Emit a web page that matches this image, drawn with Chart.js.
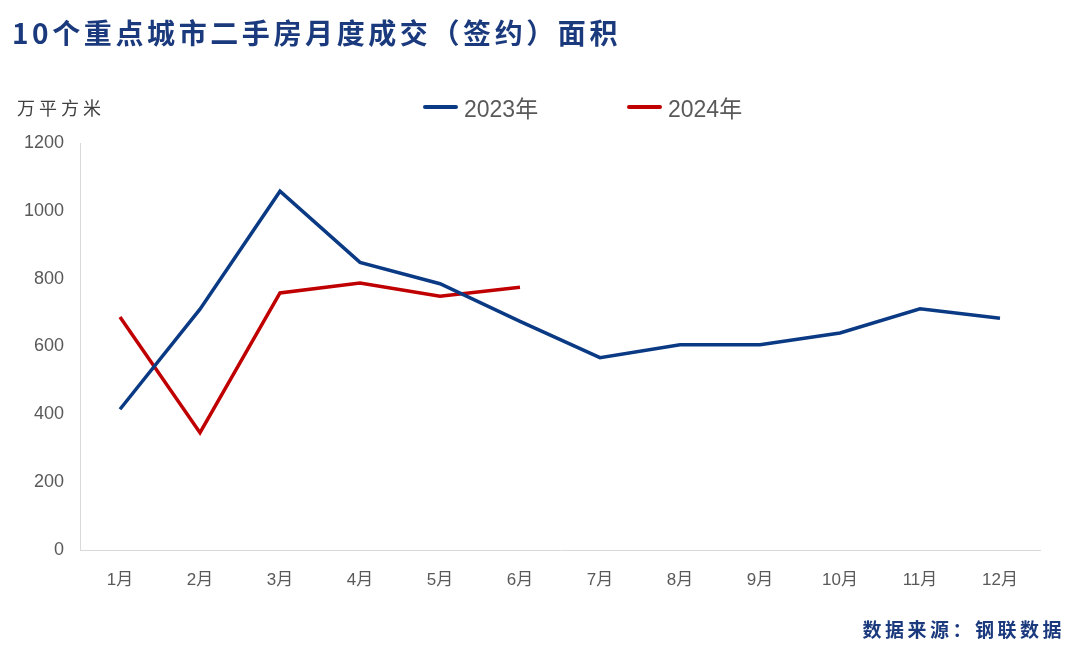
<!DOCTYPE html>
<html>
<head>
<meta charset="utf-8">
<script src="https://cdn.jsdelivr.net/npm/chart.js@4"></script>
<style>
  html, body { margin: 0; padding: 0; background: #fff; }
  #wrap { position: relative; width: 1075px; height: 647px; overflow: hidden; background: #fff; }
  #chart { position: absolute; left: 0; top: 0; }
  .title { position: absolute; left: 12px; top: 12px; font-family: "Noto Sans CJK SC", sans-serif; font-weight: bold; font-size: 28px; letter-spacing: 3.6px; color: #1b3a7d; white-space: nowrap; line-height: 40px; }
  .unit { position: absolute; left: 17px; top: 94px; font-family: "Noto Sans CJK SC", sans-serif; font-size: 18px; letter-spacing: 4px; color: #404040; white-space: nowrap; line-height: 26px; }
  .source { position: absolute; right: 10px; top: 615px; font-family: "Noto Sans CJK SC", sans-serif; font-weight: bold; font-size: 19px; letter-spacing: 3.5px; color: #1b3a7d; white-space: nowrap; line-height: 28px; }
  .legend-item { position: absolute; top: 93px; height: 28px; display: flex; align-items: center; font-family: "Liberation Sans", "Noto Sans CJK SC", sans-serif; font-size: 23px; color: #595959; white-space: nowrap; }
  .legend-item .swatch { width: 35px; height: 4px; margin-right: 6px; border-radius: 2px; }
</style>
</head>
<body>
<div id="wrap">
  <canvas id="chart" width="1075" height="647"></canvas>
  <div class="title">10个重点城市二手房月度成交（签约）面积</div>
  <div class="unit">万平方米</div>
  <div id="legend"></div>
  <div class="source">数据来源：钢联数据</div>
</div>
<script>
const categories = ["1月","2月","3月","4月","5月","6月","7月","8月","9月","10月","11月","12月"];
const series2023 = [415, 710, 1058, 848, 785, 674, 567, 605, 605, 640, 711, 683];
const series2024 = [687, 346, 758, 787, 748, 775];
const seriesNames = ["2023年", "2024年"];
const seriesColors = ["#0b3a85", "#c00000"];
const yTicks = [0, 200, 400, 600, 800, 1000, 1200];

const tickFont = { family: "'Liberation Sans', 'Noto Sans CJK SC', sans-serif", size: 18 };

const chart = new Chart(document.getElementById('chart'), {
  type: 'line',
  data: {
    labels: categories,
    datasets: [
      { label: seriesNames[0], data: series2023, borderColor: seriesColors[0], backgroundColor: seriesColors[0], borderWidth: 3.5, pointRadius: 0, tension: 0, fill: false },
      { label: seriesNames[1], data: series2024, borderColor: seriesColors[1], backgroundColor: seriesColors[1], borderWidth: 3.5, pointRadius: 0, tension: 0, fill: false }
    ]
  },
  options: {
    responsive: false,
    animation: false,
    layout: { padding: { top: 143, right: 35, bottom: 0, left: 0 } },
    plugins: { legend: { display: false }, title: { display: false }, tooltip: { enabled: false } },
    scales: {
      x: {
        offset: true,
        grid: { display: false },
        border: { display: true, color: '#d9d9d9', width: 1 },
        ticks: { color: '#595959', font: { family: tickFont.family, size: 17 }, padding: 12, maxRotation: 0, autoSkip: false },
        afterFit: (s) => { s.height = 97; }
      },
      y: {
        min: 0, max: 1200,
        afterBuildTicks: (s) => { s.ticks = yTicks.map(v => ({ value: v })); },
        grid: { display: false },
        border: { display: true, color: '#d9d9d9', width: 1 },
        ticks: { color: '#595959', font: tickFont, padding: 8, callback: (v) => String(v) },
        afterFit: (s) => { s.width = 80; }
      }
    }
  }
});

// HTML legend built from the chart's datasets
const legendPositions = [423, 627];
const legendEl = document.getElementById('legend');
chart.data.datasets.forEach((ds, i) => {
  const item = document.createElement('div');
  item.className = 'legend-item';
  item.style.left = legendPositions[i] + 'px';
  const sw = document.createElement('span');
  sw.className = 'swatch';
  sw.style.background = ds.borderColor;
  const tx = document.createElement('span');
  tx.textContent = ds.label;
  item.appendChild(sw);
  item.appendChild(tx);
  legendEl.appendChild(item);
});
</script>
</body>
</html>
